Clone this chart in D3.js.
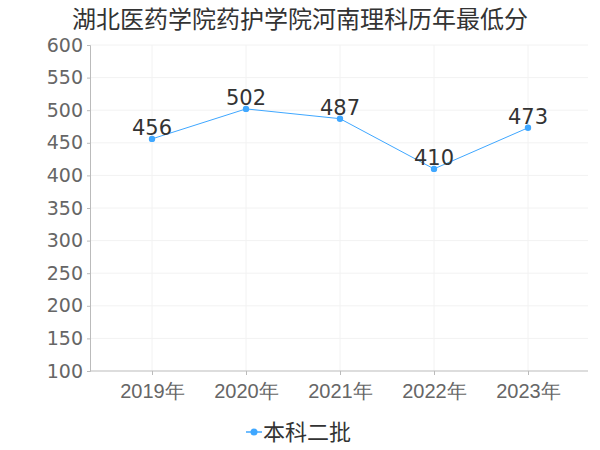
<!DOCTYPE html>
<html><head><meta charset="utf-8">
<script src="https://cdn.jsdelivr.net/npm/d3@7"></script>
<style>body{margin:0;background:#fff;}svg{display:block;font-family:"DejaVu Sans","Noto Sans CJK SC",sans-serif;}</style>
</head><body>
<svg id="c" width="600" height="450"></svg>
<script>
const title = "湖北医药学院药护学院河南理科历年最低分";
const categories = ["2019年","2020年","2021年","2022年","2023年"];
const seriesName = "本科二批";
const values = [456, 502, 487, 410, 473];
const yTicks = [100,150,200,250,300,350,400,450,500,550,600];

(function(){
const svg = d3.select("#c");
const pL = 90, pR = 588, pT = 45, pB = 371;
const x = d3.scalePoint().domain(categories).range([152, 528]);
const y = d3.scaleLinear().domain([100, 600]).range([pB, pT]);
const color = "#3fa7ff";

// grid
svg.append("g").selectAll("line").data(yTicks.slice(1)).join("line")
  .attr("x1", pL).attr("x2", pR).attr("y1", d=>y(d)).attr("y2", d=>y(d))
  .attr("stroke", "#f2f2f2");
svg.append("g").selectAll("line").data(categories).join("line")
  .attr("x1", d=>x(d)).attr("x2", d=>x(d)).attr("y1", pT).attr("y2", pB)
  .attr("stroke", "#f2f2f2");

// y axis
const ya = svg.append("g").attr("transform", `translate(${pL},0)`)
  .call(d3.axisLeft(y).tickValues(yTicks).tickSize(3).tickPadding(4));
ya.select(".domain").attr("stroke", "#bbb");
ya.selectAll(".tick line").attr("stroke", "#bbb");
ya.selectAll("text").attr("fill", "#666").attr("font-size", 19).attr("font-family", "DejaVu Sans");

// x axis
const xa = svg.append("g").attr("transform", `translate(0,${pB})`)
  .call(d3.axisBottom(x).tickSize(4).tickPadding(6));
xa.select(".domain").attr("d", `M${pL},0H${pR}`).attr("stroke", "#bbb");
xa.selectAll(".tick line").attr("stroke", "#bbb");
xa.selectAll("text").attr("fill", "#666").attr("font-size", 20).attr("dy", "0.85em");

// line
svg.append("path").datum(values)
  .attr("d", d3.line().x((d,i)=>x(categories[i])).y(d=>y(d)))
  .attr("fill", "none").attr("stroke", color).attr("stroke-width", 1);
svg.append("g").selectAll("circle").data(values).join("circle")
  .attr("cx", (d,i)=>x(categories[i])).attr("cy", d=>y(d)).attr("r", 3.2).attr("fill", color);
svg.append("g").selectAll("text").data(values).join("text")
  .attr("x", (d,i)=>x(categories[i])).attr("y", d=>y(d)-4)
  .attr("text-anchor", "middle").attr("fill", "#333").attr("font-size", 21)
  .attr("font-family", "DejaVu Sans").text(d=>d);

// title
svg.append("text").attr("x", 300).attr("y", 28).attr("text-anchor", "middle")
  .attr("fill", "#333").attr("font-size", 24).text(title);

// legend
const lg = svg.append("g").attr("transform", "translate(254,432)");
lg.append("line").attr("x1", -8).attr("x2", 8).attr("y1", 0).attr("y2", 0).attr("stroke", color).attr("stroke-width", 1.5);
lg.append("circle").attr("r", 3.5).attr("fill", color);
lg.append("text").attr("x", 9).attr("y", 8).attr("fill", "#333").attr("font-size", 22).text(seriesName);
})();
</script>
</body></html>
